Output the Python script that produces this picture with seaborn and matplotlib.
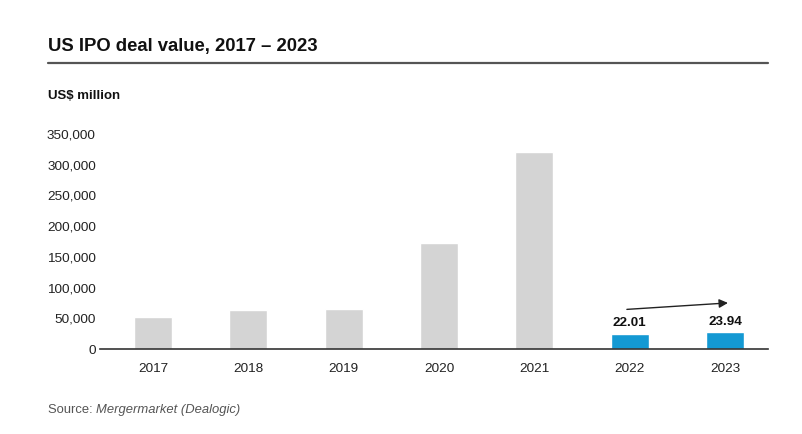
import matplotlib
matplotlib.use("Agg")
import matplotlib.pyplot as plt
import seaborn as sns
import pandas as pd
from matplotlib.ticker import FuncFormatter

years = ["2017", "2018", "2019", "2020", "2021", "2022", "2023"]
values = [52000, 63500, 65000, 173000, 320500, 24500, 27000]
bar_labels = ["", "", "", "", "", "22.01", "23.94"]
highlight = [False, False, False, False, False, True, True]
yticks = [0, 50000, 100000, 150000, 200000, 250000, 300000, 350000]

GREY = "#d4d4d4"
BLUE = "#1499d3"
TEXT = "#222222"

sns.set_theme(style="white")
plt.rcParams["font.family"] = ["Liberation Sans", "DejaVu Sans"]

df = pd.DataFrame({"year": years, "value": values,
                   "group": ["hl" if h else "base" for h in highlight]})

fig = plt.figure(figsize=(8.02, 4.34), dpi=100)
ax = fig.add_axes([100 / 802, 85 / 434, 668 / 802, 215 / 434])

sns.barplot(data=df, x="year", y="value", hue="group",
            palette={"base": GREY, "hl": BLUE}, width=0.4,
            dodge=False, legend=False, ax=ax, saturation=1)

ax.set_xlim(-0.556, 6.45)
ax.set_ylim(0, 350000)
ax.set_yticks(yticks)
ax.yaxis.set_major_formatter(FuncFormatter(lambda v, p: f"{int(v):,}"))
ax.set_xlabel("")
ax.set_ylabel("")
for s in ["top", "right", "left"]:
    ax.spines[s].set_visible(False)
ax.spines["bottom"].set_color("#333333")
ax.spines["bottom"].set_linewidth(1.2)
ax.tick_params(axis="both", length=0, labelsize=9.7, colors=TEXT)
ax.tick_params(axis="y", pad=3)
ax.tick_params(axis="x", pad=10)

for i, (v, lab) in enumerate(zip(values, bar_labels)):
    if lab:
        ax.annotate(lab, xy=(i, v), xytext=(0, 3.5), textcoords="offset points",
                    ha="center", va="bottom", fontsize=9.7, fontweight="bold",
                    color="#111111")

# trend arrow between the highlighted bars
i0, i1 = 5, 6
ax.annotate("", xy=(i1 + 0.03, values[i1] + 48000), xytext=(i0 - 0.03, values[i0] + 40000),
            arrowprops=dict(arrowstyle="-|>", color="#222222", lw=1.0,
                            mutation_scale=13, shrinkA=0, shrinkB=0))

fig.text(48 / 802, 1 - 46 / 434, "US IPO deal value, 2017 \u2013 2023", fontsize=13.3,
         fontweight="bold", color="#111111", va="center", ha="left")
fig.add_artist(plt.Line2D([48 / 802, 768 / 802], [1 - 63 / 434, 1 - 63 / 434],
                          color="#555555", lw=1.6, transform=fig.transFigure))
fig.text(48 / 802, 1 - 96 / 434, "US$ million", fontsize=9.5, fontweight="bold",
         color="#111111", va="center", ha="left")
t1 = fig.text(48 / 802, 1 - 410 / 434, "Source: ", fontsize=9.4, color="#555555",
              va="center", ha="left")
fig.canvas.draw()
bb = t1.get_window_extent()
fig.text(bb.x1 / 802, 1 - 410 / 434, "Mergermarket (Dealogic)", fontsize=9.4,
         style="italic", color="#555555", va="center", ha="left")

fig.savefig("out.png", dpi=100)
